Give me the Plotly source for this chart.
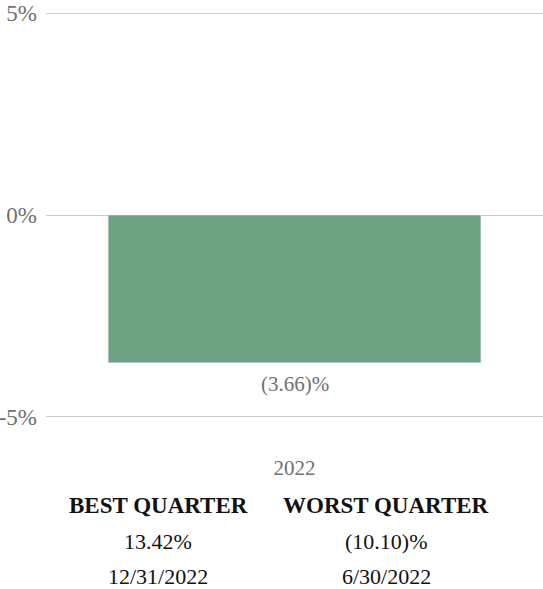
import plotly.graph_objects as go

years = ["2022"]
returns = [-3.66]
bar_labels = ["(3.66)%"]
y_ticks = [-5, 0, 5]
y_tick_labels = ["-5%", "0%", "5%"]
quarter_heads = ["BEST QUARTER", "WORST QUARTER"]
quarter_values = ["13.42%", "(10.10)%"]
quarter_dates = ["12/31/2022", "6/30/2022"]

W, H = 543, 589
y_lo, y_hi = -5.1, 5.1
px_per_unit = 40.3
top = 215 - y_hi * px_per_unit
bottom = H - (215 - y_lo * px_per_unit)
left = 46
plot_h = H - top - bottom
serif = "Liberation Serif"
gray = "#707070"

fig = go.Figure()
fig.add_trace(go.Bar(
    x=years, y=returns,
    marker=dict(color="#6fa283"), width=0.75,
    hoverinfo="skip",
))

def py(pixel_y):
    # page pixel row -> paper coordinate
    return (H - bottom - pixel_y) / plot_h

ann = []
for i, (val, lab) in enumerate(zip(returns, bar_labels)):
    ann.append(dict(x=i, y=val, text=lab, showarrow=False,
                    yanchor="middle", yshift=-21,
                    font=dict(family=serif, size=21, color=gray)))

centres = [158, 386]
for i, cx in enumerate(centres):
    xp = (cx - left) / (W - left)
    for text, row, bold in [(quarter_heads[i], 505, True),
                            (quarter_values[i], 541, False),
                            (quarter_dates[i], 576, False)]:
        ann.append(dict(
            x=xp, y=py(row), xref="paper", yref="paper",
            text=f"<b>{text}</b>" if bold else text, showarrow=False,
            xanchor="center", yanchor="middle",
            font=dict(family=serif, size=23 if bold else 22, color="#111111"),
        ))

fig.update_layout(
    width=W, height=H,
    margin=dict(l=left, r=0, t=top, b=bottom),
    plot_bgcolor="white", paper_bgcolor="white",
    showlegend=False,
    annotations=ann,
    xaxis=dict(type="category", range=[-0.5, len(years) - 0.5],
               showgrid=False, showline=False, ticks="",
               tickfont=dict(family=serif, size=21, color=gray),
               ticklabelstandoff=32),
    yaxis=dict(range=[y_lo, y_hi], tickvals=y_ticks, ticktext=y_tick_labels,
               showgrid=True, gridcolor="#cccccc", gridwidth=1,
               zeroline=True, zerolinecolor="#cccccc", zerolinewidth=1,
               showline=False, ticks="",
               tickfont=dict(family=serif, size=23, color=gray),
               ticklabelstandoff=8),
)

fig.write_html("out.html", config={"displayModeBar": False},
               post_script="document.body.style.margin='0';")
